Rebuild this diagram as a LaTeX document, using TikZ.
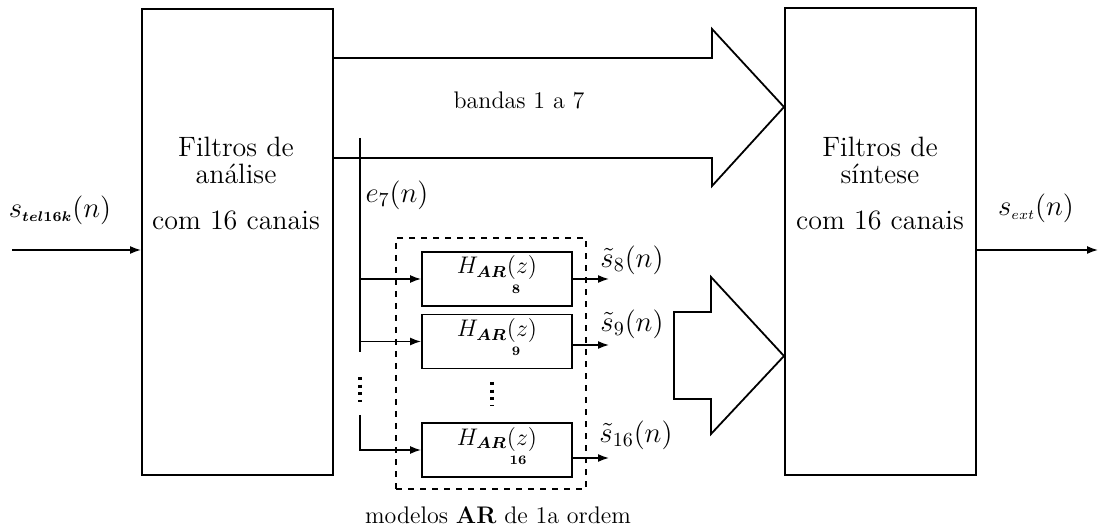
\documentclass[tikz,border=0pt]{standalone}
\usepackage{amsmath}
\usepackage{fontspec}
\usetikzlibrary{arrows.meta,calc}
\begin{document}
\begin{tikzpicture}[x=0.5pt,y=-0.5pt,
  bigbox/.style={draw, line width=1pt, minimum width=95.5pt, minimum height=233pt, inner sep=0pt},
  arbox/.style={draw, line width=0.9pt, minimum width=75pt, minimum height=27pt, inner sep=0pt},
  dashbox/.style={draw, dashed, line width=0.7pt, minimum width=95pt, minimum height=125.5pt, inner sep=0pt},
  sig/.style={-{Latex[length=5.5pt,width=4pt]}, line width=0.8pt},
  plain/.style={line width=0.8pt},
  fat/.style={draw, line width=0.9pt, line join=miter},
  txt/.style={font=\fontsize{14}{16}\selectfont, inner sep=0pt},
  mtxt/.style={font=\fontsize{12}{14}\selectfont, inner sep=0pt},
  htxt/.style={font=\fontsize{12}{14}\selectfont, inner sep=0pt},
  subtxt/.style={font=\fontsize{6.5}{7}\selectfont\bfseries, inner sep=0pt},
  vdotsline/.style={line width=1.6pt, dash pattern=on 1.6pt off 2.2pt}
]
\useasboundingbox (0,0) rectangle (1101,528);

% main blocks
\node[bigbox] (fa) at (237.5,242) {};
\node[bigbox] (fs) at (880,241.5) {};
\node[txt] (fa1) at (236,147) {Filtros de};
\node[txt] (fa2) at (236,174) {análise};
\node[txt] (fa3) at (236,220) {com 16 canais};
\node[txt] (fs1) at (880,147) {Filtros de};
\node[txt] (fs2) at (880,174) {síntese};
\node[txt] (fs3) at (880,220) {com 16 canais};

% input / output
\coordinate (in) at (12,250);
\coordinate (out) at (1098,250);
\draw[sig] (in) -- (in -| fa.west);
\draw[sig] (out -| fs.east) -- (out);
\node[txt] (lin) at (60,210) {$s_{\scriptscriptstyle\boldsymbol{tel16k}}(n)$};
\node[txt] (lout) at (1036,208) {$s_{\scriptscriptstyle ext}(n)$};

% fat arrow bands 1 to 7
\draw[fat] (333,58) -- (712,58) -- (712,29) -- (784,107) -- (712,186) -- (712,158) -- (333,158);
\node[mtxt] (band) at (519,100) {bandas 1 a 7};

% AR models
\node[dashbox] (ar) at (491,363.5) {};
\node[arbox] (b1) at (497,279) {};
\node[arbox] (b2) at (497,341.5) {};
\node[arbox] (b3) at (497,450) {};
\node[htxt] (h1) at (497,268) {$H_{\boldsymbol{AR}}(z)$};
\node[subtxt] (n1) at (516,289) {8};
\node[htxt] (h2) at (497,330.5) {$H_{\boldsymbol{AR}}(z)$};
\node[subtxt] (n2) at (516,351.5) {9};
\node[htxt] (h3) at (497,439) {$H_{\boldsymbol{AR}}(z)$};
\node[subtxt] (n3) at (518,460) {16};
\coordinate (di1) at (492,382);
\coordinate (di2) at (492,406);
\draw[vdotsline] (di1) -- (di2);
\node[mtxt] (mod) at (498,515) {modelos \textbf{AR} de 1a ordem};

% bus from band 7
\coordinate (bt) at (360,138);
\coordinate (bb) at (360,352);
\draw[plain] (bt) -- (bb);
\draw[sig] (bt |- b1.west) -- (b1.west);
\draw[sig] (bt |- b2.west) -- (b2.west);
\coordinate (dl1) at (360,377);
\coordinate (dl2) at (360,402);
\draw[vdotsline] (dl1) -- (dl2);
\coordinate (bt3) at (360,415);
\draw[sig] (bt3) -- (bt3 |- b3.west) -- (b3.west);
\node[txt] (le) at (397,195) {$e_7(n)$};

% outputs of AR models
\coordinate (o1) at (609,279);
\coordinate (o2) at (609,345);
\coordinate (o3) at (609,458);
\draw[sig] (o1 -| b1.east) -- (o1);
\draw[sig] (o2 -| b2.east) -- (o2);
\draw[sig] (o3 -| b3.east) -- (o3);
\node[txt] (s8) at (632,260) {$\tilde{s}_8(n)$};
\node[txt] (s9) at (632,324) {$\tilde{s}_9(n)$};
\node[txt] (s16) at (636,435) {$\tilde{s}_{16}(n)$};

% fat arrow for bands 8 to 16
\draw[fat] (711,312) -- (674,312) -- (674,399) -- (711,399) -- (711,434) -- (784,356) -- (711,277) -- cycle;
\end{tikzpicture}
\end{document}
